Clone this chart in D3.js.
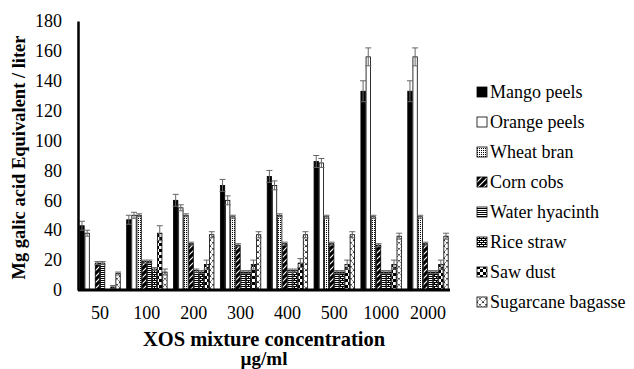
<!DOCTYPE html>
<html lang="en">
<head>
<meta charset="UTF-8">
<title>XOS chart</title>
<script src="https://d3js.org/d3.v7.min.js"></script>
<style>
    body { margin: 0; background: #fff; }
    svg { display: block; }
</style>
</head>
<body>
<div id="chart"></div>
<script>
    // Data
    const categories = ["50", "100", "200", "300", "400", "500", "1000", "2000"];
    const seriesNames = ["Mango peels", "Orange peels", "Wheat bran", "Corn cobs",
        "Water hyacinth", "Rice straw", "Saw dust", "Sugarcane bagasse"];

    const mango = [43, 47, 60, 70, 76, 86, 133, 133];
    const orange = [38, 50, 55, 60, 70, 85, 156, 156];
    const wheat = [0, 50, 50, 49, 50, 49, 49, 49];
    const corn = [18, 19, 31, 30, 31, 31, 30, 31];
    const water = [18, 19, 13, 12, 13, 12, 12, 12];
    const rice = [0, 14, 12, 12, 13, 12, 12, 12];
    const saw = [2, 38, 17, 17, 18, 17, 17, 17];
    const sugar = [11, 12, 37, 37, 37, 37, 36, 36];

    const mangoErr = [3, 3, 4, 4, 4, 4, 7, 7];
    const orangeErr = [2, 2, 2, 3, 3, 3, 6, 6];
    const wheatErr = [0, 1, 1, 1, 1, 1, 1, 1];
    const cornErr = [1, 1, 1, 1, 1, 1, 1, 1];
    const waterErr = [1, 1, 1, 1, 1, 1, 1, 1];
    const riceErr = [0, 1, 1, 1, 1, 1, 1, 1];
    const sawErr = [1, 5, 3, 3, 3, 3, 3, 3];
    const sugarErr = [1, 2, 2, 2, 2, 2, 2, 2];

    const yTicks = [0, 20, 40, 60, 80, 100, 120, 140, 160, 180];

    const values = [mango, orange, wheat, corn, water, rice, saw, sugar];
    const errors = [mangoErr, orangeErr, wheatErr, cornErr, waterErr, riceErr, sawErr, sugarErr];

    const FONT = '"Liberation Serif", "Times New Roman", serif';
    const width = 634, height = 369;
    const margin = { left: 78, right: 184, top: 21, bottom: 79 };

    const svg = d3.select('#chart').append('svg')
        .attr('width', width)
        .attr('height', height)
        .attr('font-family', FONT);

    // Fill patterns, one per series
    const defs = svg.append('defs');
    const fills = [];

    function addPattern(id, w, h, draw) {
        const p = defs.append('pattern')
            .attr('id', id)
            .attr('patternUnits', 'userSpaceOnUse')
            .attr('width', w)
            .attr('height', h);
        draw(p);
        return `url(#${id})`;
    }

    fills.push('#000');
    fills.push('#fff');
    fills.push(addPattern('p-wheat', 2, 2, p => {
        p.append('rect').attr('width', 2).attr('height', 2).attr('fill', '#fff');
        p.append('rect').attr('width', 1).attr('height', 1).attr('fill', '#000');
    }));
    fills.push(addPattern('p-corn', 6, 6, p => {
        p.append('rect').attr('width', 6).attr('height', 6).attr('fill', '#000');
        p.append('path').attr('d', 'M0,6 L6,0 M-1,1 L1,-1 M5,7 L7,5')
            .attr('stroke', '#fff').attr('stroke-width', 1.2);
    }));
    fills.push(addPattern('p-water', 2, 2, p => {
        p.append('rect').attr('width', 2).attr('height', 2).attr('fill', '#fff');
        p.append('rect').attr('width', 2).attr('height', 1).attr('fill', '#000');
    }));
    fills.push(addPattern('p-rice', 4, 4, p => {
        p.append('rect').attr('width', 4).attr('height', 4).attr('fill', '#fff');
        p.append('path').attr('d', 'M0,0.5 H4 M0.5,0 V2 M0,2.5 H4 M2.5,2 V4')
            .attr('stroke', '#000').attr('stroke-width', 1);
    }));
    fills.push(addPattern('p-saw', 6, 6, p => {
        p.append('rect').attr('width', 6).attr('height', 6).attr('fill', '#fff');
        p.append('rect').attr('width', 3).attr('height', 3).attr('fill', '#000');
        p.append('rect').attr('x', 3).attr('y', 3).attr('width', 3).attr('height', 3).attr('fill', '#000');
    }));
    fills.push(addPattern('p-sugar', 6, 6, p => {
        p.append('rect').attr('width', 6).attr('height', 6).attr('fill', '#fff');
        p.append('path').attr('d', 'M0,0 L3,3 L0,6 M6,0 L3,3 L6,6')
            .attr('stroke', '#000').attr('stroke-width', 0.8).attr('fill', 'none')
            .attr('stroke-dasharray', '1.5,1');
    }));

    const x0 = d3.scaleBand()
        .domain(categories)
        .range([margin.left, width - margin.right])
        .paddingInner(0.12)
        .paddingOuter(0.03);

    const x1 = d3.scaleBand()
        .domain(d3.range(seriesNames.length))
        .range([0, x0.bandwidth()]);

    const y = d3.scaleLinear()
        .domain([0, 180])
        .range([height - margin.bottom, margin.top]);

    // Bars
    const rows = [];
    values.forEach((vals, s) => {
        vals.forEach((v, c) => rows.push({ s, c, v, e: errors[s][c] }));
    });

    const barG = svg.append('g');
    barG.selectAll('rect')
        .data(rows)
        .join('rect')
        .attr('x', d => x0(categories[d.c]) + x1(d.s) + 0.4)
        .attr('y', d => y(d.v))
        .attr('width', x1.bandwidth() - 0.8)
        .attr('height', d => y(0) - y(d.v))
        .attr('fill', d => fills[d.s])
        .attr('stroke', '#000')
        .attr('stroke-width', 0.8);

    // Error bars
    const errG = svg.append('g')
        .attr('stroke', '#666')
        .attr('stroke-width', 1);
    rows.filter(d => d.e > 0).forEach(d => {
        const cx = x0(categories[d.c]) + x1(d.s) + x1.bandwidth() / 2;
        errG.append('line')
            .attr('x1', cx).attr('x2', cx)
            .attr('y1', y(d.v - d.e)).attr('y2', y(d.v + d.e));
        errG.append('line')
            .attr('x1', cx - 3).attr('x2', cx + 3)
            .attr('y1', y(d.v + d.e)).attr('y2', y(d.v + d.e));
        errG.append('line')
            .attr('x1', cx - 3).attr('x2', cx + 3)
            .attr('y1', y(d.v - d.e)).attr('y2', y(d.v - d.e));
    });

    // Axes
    const yAxis = svg.append('g')
        .attr('transform', `translate(${margin.left},0)`)
        .call(d3.axisLeft(y).tickValues(yTicks).tickSize(0).tickPadding(16));
    yAxis.select('.domain').attr('stroke', '#000').attr('stroke-width', 2.5);
    yAxis.selectAll('text').attr('font-size', 18).attr('font-family', FONT).attr('fill', '#000');

    const xAxis = svg.append('g')
        .attr('transform', `translate(0,${y(0)})`)
        .call(d3.axisBottom(x0).tickSize(0).tickPadding(16));
    xAxis.select('.domain').attr('stroke', '#000').attr('stroke-width', 3)
        .attr('d', `M${margin.left},0H${width - margin.right}`);
    xAxis.selectAll('text').attr('font-size', 18).attr('font-family', FONT).attr('fill', '#000');

    // Axis titles
    const xMid = (margin.left + width - margin.right) / 2;
    svg.append('text')
        .attr('x', xMid).attr('y', 346)
        .attr('text-anchor', 'middle')
        .attr('font-size', 20.5).attr('font-weight', 'bold')
        .text('XOS mixture concentration');
    svg.append('text')
        .attr('x', xMid).attr('y', 365)
        .attr('text-anchor', 'middle')
        .attr('font-size', 19).attr('font-weight', 'bold')
        .text('µg/ml');

    svg.append('text')
        .attr('transform', `translate(25,${(margin.top + y(0)) / 2 + 2}) rotate(-90)`)
        .attr('text-anchor', 'middle')
        .attr('font-size', 18.5).attr('font-weight', 'bold')
        .text('Mg galic acid Equivalent / liter');

    // Legend
    const legend = svg.append('g')
        .attr('transform', 'translate(477,92)');
    const item = legend.selectAll('g')
        .data(seriesNames)
        .join('g')
        .attr('transform', (d, i) => `translate(0,${i * 30})`);
    item.append('rect')
        .attr('x', 0).attr('y', -5)
        .attr('width', 10).attr('height', 10)
        .attr('fill', (d, i) => fills[i])
        .attr('stroke', '#000').attr('stroke-width', 0.8);
    item.append('text')
        .attr('x', 13).attr('y', 6)
        .attr('font-size', 18)
        .text(d => d);
</script>
</body>
</html>
